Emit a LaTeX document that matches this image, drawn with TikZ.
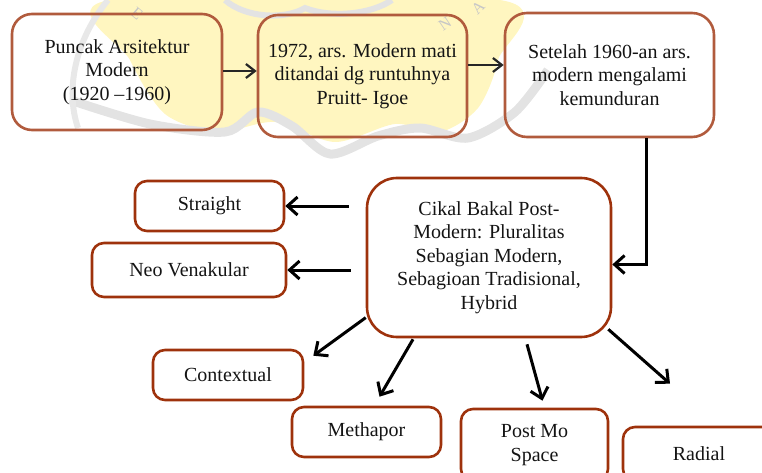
\documentclass[tikz,border=0pt]{standalone}
\usepackage{fontspec}
\setmainfont{Liberation Serif}
\usepackage{xcolor}
\usepackage{tikz}
\usetikzlibrary{arrows.meta,calc}
\definecolor{boxbrown}{RGB}{158,50,12}
\definecolor{wmyellow}{RGB}{255,246,192}

\begin{document}
\begin{tikzpicture}[x=1pt,y=-1pt,
  box/.style={draw=boxbrown,line width=2.6pt,rounded corners=12pt,align=center,
    font=\fontsize{20}{23.5}\selectfont,text=black!92,inner sep=0pt},
  arr/.style={-{Straight Barb[length=10pt,width=18pt]},line width=3pt},
  toparr/.style={-{Straight Barb[length=9pt,width=14pt]},line width=2.2pt,black!85},
  wm/.style={text=black!22,font=\fontsize{16}{16}\selectfont}]
  \useasboundingbox (0,0) rectangle (762,473);
  % watermark behind the chart
  \fill[wmyellow] plot[smooth cycle] coordinates {(110,0) (500,0) (498,60) (478,108)
    (440,132) (395,124) (335,142) (275,122) (218,132) (165,114) (130,60)};
  \draw[black!11,line width=9pt] plot[smooth] coordinates {(70,100) (150,124) (225,132)
    (258,112) (292,126) (330,154) (378,136) (420,128) (468,138) (515,112) (548,70)};
  \draw[black!11,line width=6pt] (225,0) .. controls (245,18) and (285,20) .. (305,8)
    .. controls (330,18) and (370,15) .. (392,0);
  \draw[black!9,line width=6pt] (108,0) .. controls (75,40) and (65,90) .. (78,128);
  \node[wm,rotate=-40] (wme) at (137,14) {E};
  \node[wm,rotate=34] (wmn) at (445,24) {N};
  \node[wm,rotate=44] (wmc) at (478,8) {A};
  % top row
  \node[box,draw=boxbrown!80,rounded corners=20pt,minimum width=210pt,minimum height=116pt]
    (puncak) at (117,72) {Puncak Arsitektur\\Modern\\(1920 –1960)};
  \node[box,draw=boxbrown!80,rounded corners=20pt,minimum width=209pt,minimum height=122pt]
    (runtuh) at (362.5,76) {1972, ars. Modern mati\\ditandai dg runtuhnya\\Pruitt- Igoe};
  \node[box,draw=boxbrown!80,rounded corners=22pt,minimum width=209pt,minimum height=124pt]
    (setelah) at (609.5,75) {Setelah 1960-an ars.\\modern mengalami\\kemunduran};
  % centre box
  \node[box,rounded corners=30pt,minimum width=244pt,minimum height=159pt]
    (cikal) at (489,257.5) {Cikal Bakal Post-\\Modern: Pluralitas\\Sebagian Modern,\\Sebagioan Tradisional,\\Hybrid};
  % branches
  \node[box,minimum width=149pt,minimum height=50pt] (straight) at (209.5,206) {Straight};
  \node[box,minimum width=194pt,minimum height=54pt] (neo) at (189,270) {Neo Venakular};
  \node[box,minimum width=150pt,minimum height=50pt] (contextual) at (228,375) {Contextual};
  \node[box,minimum width=149pt,minimum height=50pt] (methapor) at (366.5,432) {Methapor};
  \node[box,minimum width=147pt,minimum height=72pt] (postmo) at (534.5,445) {Post Mo\\Space};
  \node[box,minimum width=152pt,minimum height=54pt] (radial) at (699,454) {Radial};
  % connectors
  \draw[toparr] (puncak.east |- 0,71) -- (runtuh.west |- 0,71);
  \draw[toparr] (runtuh.east |- 0,65) -- (setelah.west |- 0,65);
  \draw[arr] (setelah.south -| 646,0) |- ([yshift=-7pt]cikal.east);
  \draw[arr] ($(cikal.west |- straight.east)+(-17,0)$) -- (straight.east);
  \draw[arr] ($(cikal.west |- neo.east)+(-15,0)$) -- (neo.east);
  \draw[arr] (cikal.206) -- ($(contextual.north east)+(9,7)$);
  \draw[arr] ($(cikal.south)+(-76,1)$) -- ($(methapor.north)+(13,-9)$);
  \draw[arr] ($(cikal.south)+(38,6)$) -- ($(postmo.north)+(8,-7)$);
  \draw[arr] ($(cikal.south east)+(-4,-9)$) -- ($(radial.north)+(-29,-42)$);
\end{tikzpicture}
\end{document}
